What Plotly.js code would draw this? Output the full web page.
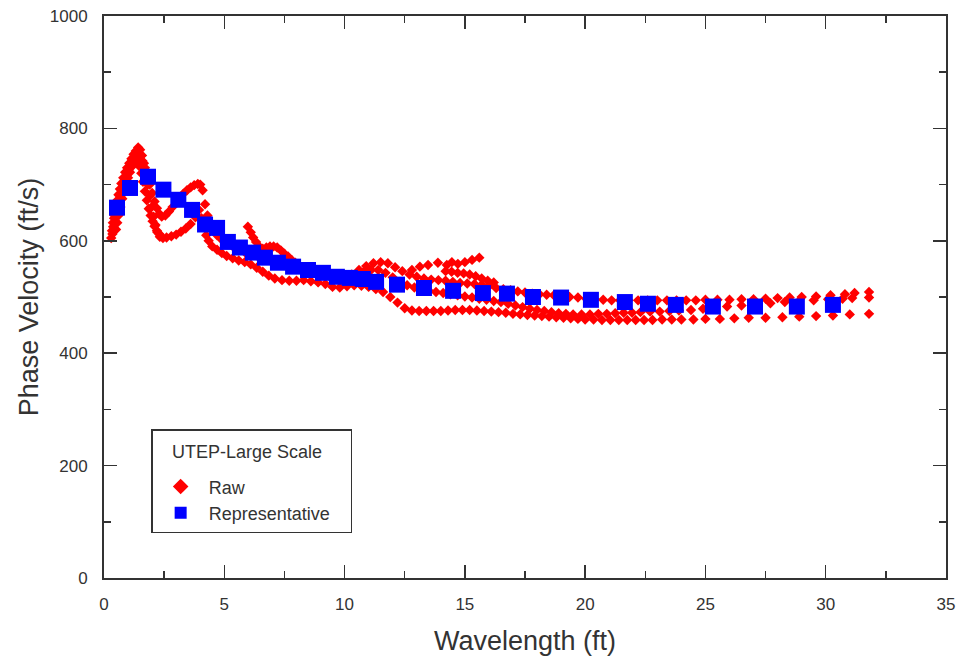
<!DOCTYPE html>
<html>
<head>
<meta charset="utf-8">
<script src="https://cdn.plot.ly/plotly-3.0.1.min.js"></script>
<style>html,body{margin:0;padding:0;background:#fff;}#chart{width:958px;height:660px;}</style>
</head>
<body>
<div id="chart"></div>
<script>
// Representative (blue squares)
const repX = [0.54,1.08,1.83,2.47,3.09,3.66,4.2,4.7,5.15,5.65,6.19,6.69,7.23,7.86,8.48,9.1,9.68,10.22,10.76,11.31,12.18,13.3,14.51,15.75,16.75,17.83,19.0,20.24,21.65,22.61,23.77,25.31,27.06,28.8,30.3];
const repY = [659,694,714,691,673,655,629,623,598,588,579,570,561,554,548,543,536,534,532,527,522,516,511,507,506,500,499,495,491,488,486,483,483,483,486];

// Raw curves (red diamonds)
const rawAX = [0.35,0.38,0.42,0.46,0.5,0.55,0.6,0.66,0.72,0.8,0.88,0.96,1.05,1.14,1.23,1.32,1.42,1.5,1.58,1.66,1.74,1.82,1.9,1.98,2.06,2.14,2.22,2.32,2.45,2.6,2.8,3.0,3.2,3.4,3.6,3.8,3.95,4.05,4.15,4.25,4.35,4.5,4.7,4.9,5.1,5.35,5.6,5.85,6.1,6.35,6.6,6.85,7.1,7.4,7.7,8.0,8.3,8.6,8.9,9.2,9.5,9.8,10.1,10.4,10.7,11.0,11.3,11.6,11.9,12.2,12.5,12.8,13.1,13.4,13.7,14.0,14.3,14.6,14.9,15.2,15.5,15.8,16.1,16.4,16.7,17.0,17.3,17.6,17.9,18.2,18.5,18.8,19.1,19.4,19.7,20.0,20.35,20.7,21.05,21.4,21.75,22.1,22.45,22.8,23.2,23.6,24.0,24.5,25.0,25.6,26.2,26.8,27.5,28.2,28.9,29.6,30.3,31.0,31.8];
const rawAY = [612,625,640,652,662,672,682,692,702,712,722,730,738,746,754,760,766,762,752,738,720,700,680,660,643,628,615,607,605,606,608,611,616,622,630,642,655,640,625,610,600,590,584,578,573,569,565,562,558,552,545,538,533,530,529,529,530,528,526,523,518,517,519,521,520,518,514,509,500,490,480,476,475,475,475,475,476,477,477,477,476,475,474,473,472,470,469,468,467,466,465,464,463,462,461,460,460,459,459,459,459,459,459,459,460,460,460,460,461,461,462,463,463,464,465,466,467,469,470];

const rawBX = [0.5,0.55,0.6,0.68,0.76,0.84,0.92,1.0,1.08,1.16,1.24,1.32,1.4,1.5,1.6,1.7,1.8,1.9,2.0,2.1,2.2,2.3,2.4,2.55,2.7,2.85,3.0,3.15,3.3,3.45,3.6,3.75,3.9,4.0,4.1,4.2,4.3,4.4,4.55,4.7,4.9,5.1,5.35,5.6,5.85,6.1,6.4,6.7,7.0,7.3,7.6,7.9,8.2,8.5,8.8,9.1,9.4,9.7,10.0,10.3,10.6,10.9,11.2,11.5,11.8,12.1,12.4,12.7,13.0,13.3,13.6,13.9,14.2,14.5,14.8,15.1,15.4,15.7,16.0,16.3,16.6,16.9,17.2,17.5,17.8,18.1,18.4,18.7,19.0,19.35,19.7,20.05,20.4,20.75,21.1,21.45,21.8,22.2,22.6,23.0,23.4,23.8,24.2,24.6,25.0,25.5,26.0,26.5,27.0,27.5,28.0,28.5,29.0,29.6,30.2,30.8,31.2,31.8];
const rawBY = [620,632,645,660,675,690,702,712,722,732,742,748,752,750,742,730,715,700,685,670,658,648,643,645,652,660,668,676,684,690,695,699,701,700,690,665,645,630,618,610,602,596,590,585,580,576,572,568,565,561,557,553,550,547,544,541,539,537,537,540,548,555,560,562,560,553,546,540,536,533,531,530,529,527,525,524,523,522,519,516,514,512,510,508,506,505,504,503,502,500,499,497,496,495,494,494,494,494,494,494,494,494,494,494,495,495,495,496,496,497,498,499,500,501,503,505,507,509];

const rawCX = [10.8,11.1,11.4,11.7,12.0,12.3,12.6,12.9,13.2,13.5,13.8,14.1,14.4,14.7,15.0,15.3,15.6,15.9,16.2,16.5,16.8,17.1,17.4,17.7,18.0,18.3,18.6,18.9,19.2,19.5,19.85,20.2,20.55,20.9,21.25,21.6,21.95,22.3,22.7,23.1,23.5,23.9,24.4,24.9,25.4,25.9,26.5,27.1,27.7,28.3,28.9,29.5,30.1,30.7,31.1,31.8];
const rawCY = [545,548,548,543,535,527,521,517,514,511,509,507,505,503,501,499,497,495,493,491,488,485,482,479,477,475,473,471,470,469,469,469,470,470,471,472,472,473,474,474,475,476,477,479,481,483,485,487,489,491,493,494,496,497,498,499];

const rawDX = [5.98,6.1,6.2,6.32,6.45,6.6,6.75,6.9,7.05,7.2,7.35,7.5,7.65,7.8,7.95,8.1];
const rawDY = [625,615,606,598,590,586,588,590,590,588,583,577,572,566,561,557];

const rawEX = [14.2,14.45,14.7,14.95,15.2,15.45,15.7,15.95,16.2];
const rawEY = [546,545,543,542,540,537,533,529,526];

const rawFX = [12.8,13.13,13.47,13.88,14.25,14.46,14.71,15.0,15.3,15.6];
const rawFY = [548,554,557,561,557,562,559,562,566,570];

const rawGX = [0.3,0.33,0.37,0.42,0.48,0.56,0.64,0.7,0.78,0.86,0.94,1.02,1.1,1.2,1.3,1.4,1.48,1.55,1.62,1.7,1.78,1.86,1.94,2.02,2.1,2.2,2.3];
const rawGY = [605,618,632,646,657,665,672,680,692,705,716,726,734,740,742,740,732,720,705,688,672,657,645,635,626,618,612];

const rawX = [].concat(rawAX, rawBX, rawCX, rawDX, rawEX, rawFX, rawGX);
const rawY = [].concat(rawAY, rawBY, rawCY, rawDY, rawEY, rawFY, rawGY);

const legendTitle = 'UTEP-Large Scale';

const font = 'Liberation Sans, Arial, sans-serif';
const ink = '#333333';

const traces = [
  {x: rawX, y: rawY, type: 'scatter', mode: 'markers', name: 'Raw',
   marker: {symbol: 'diamond', size: 8, color: '#ff0000', line: {width: 0}}},
  {x: repX, y: repY, type: 'scatter', mode: 'markers', name: 'Representative\u00a0\u00a0\u00a0',
   marker: {symbol: 'square', size: 16, color: '#0000ff', line: {width: 0}}}
];

const axisCommon = {
  ticks: 'inside', ticklen: 13, tickwidth: 1.5, tickcolor: ink,
  showline: true, linewidth: 2, linecolor: ink, mirror: 'allticks',
  showgrid: false, zeroline: false,
  tickfont: {family: font, size: 17, color: ink}
};

const layout = {
  width: 958, height: 660,
  margin: {l: 104, r: 12, t: 16, b: 82},
  paper_bgcolor: '#ffffff', plot_bgcolor: '#ffffff',
  showlegend: true,
  xaxis: Object.assign({}, axisCommon, {
    range: [0, 35], dtick: 5, tick0: 0,
    ticklabelstandoff: 10,
    minor: {dtick: 2.5, ticks: 'inside', ticklen: 7, tickwidth: 1.5, tickcolor: ink, showgrid: false},
    title: {text: 'Wavelength (ft)', font: {family: font, size: 27, color: ink}, standoff: 18}
  }),
  yaxis: Object.assign({}, axisCommon, {
    range: [0, 1000], dtick: 200, tick0: 0,
    ticklabelstandoff: 11,
    minor: {dtick: 100, ticks: 'inside', ticklen: 7, tickwidth: 1.5, tickcolor: ink, showgrid: false},
    title: {text: 'Phase Velocity (ft/s)', font: {family: font, size: 27, color: ink}, standoff: 3}
  }),
  legend: {
    x: 0.056, y: 0.265, xanchor: 'left', yanchor: 'top',
    bgcolor: 'rgba(255,255,255,0)', bordercolor: ink, borderwidth: 1.5,
    font: {family: font, size: 18, color: ink},
    title: {text: '\u00a0', font: {family: font, size: 29, color: ink}},
    itemsizing: 'constant', itemwidth: 46, tracegroupgap: 0
  },
  annotations: [{
    text: legendTitle, xref: 'paper', yref: 'paper', x: 0.0784, y: 0.224,
    xanchor: 'left', yanchor: 'middle', showarrow: false,
    font: {family: font, size: 18, color: ink}
  }]
};

Plotly.newPlot('chart', traces, layout, {displayModeBar: false, staticPlot: true});
</script>
</body>
</html>
